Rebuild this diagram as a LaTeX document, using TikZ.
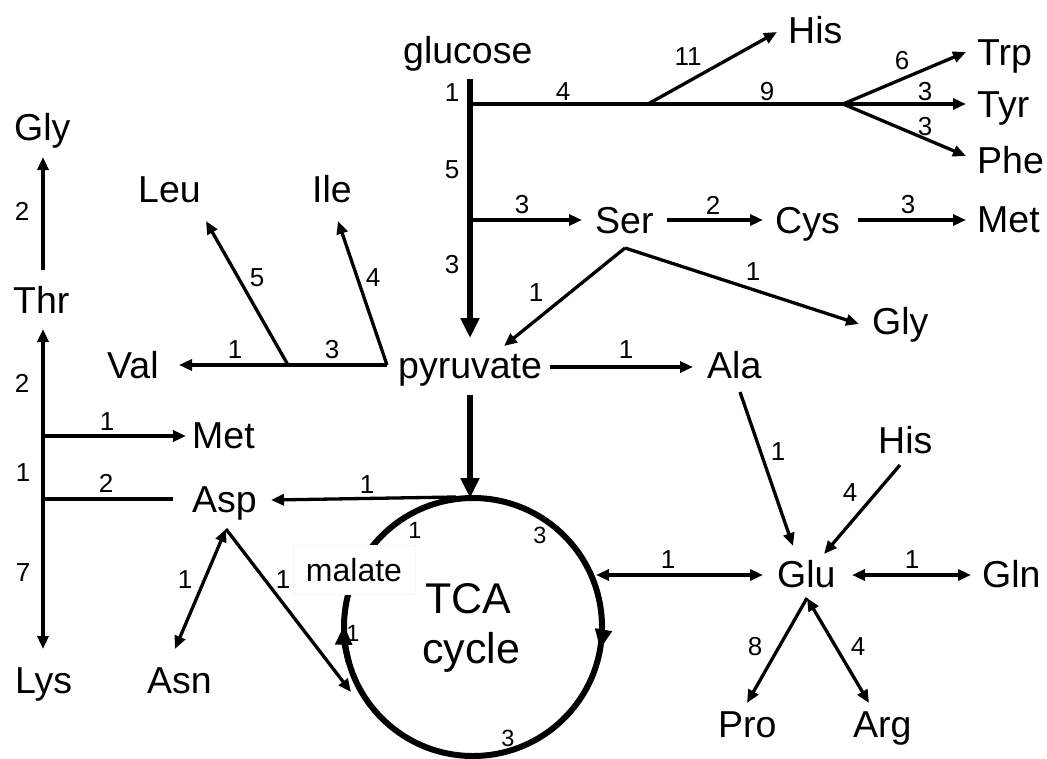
\documentclass[tikz,border=0pt]{standalone}
\usepackage{fontspec}
\setmainfont{Liberation Sans}
\usetikzlibrary{arrows.meta}
\begin{document}
\begin{tikzpicture}[x=1pt,y=-1pt,
  lbl/.style={font=\fontsize{37.5}{40}\selectfont, anchor=base west, inner sep=0pt},
  num/.style={font=\fontsize{26}{28}\selectfont, inner sep=0pt},
  cnum/.style={font=\fontsize{23.5}{26}\selectfont, inner sep=0pt},
  ln/.style={line width=3.3pt},
  arr/.style={ln, -{Triangle[length=13pt,width=11pt]}},
  darr/.style={ln, {Triangle[length=13pt,width=11pt]}-{Triangle[length=13pt,width=11pt]}},
  tarr/.style={line width=6pt, -{Triangle[length=20pt,width=18pt]}},
  cyc/.style={line width=6pt},
  carr/.style={line width=6pt, -{Triangle[length=20pt,width=16pt]}}]
\useasboundingbox (0,0) rectangle (1047,758);

% ---- text nodes
\node[lbl] (glucose) at (403,63) {glucose};
\node[lbl] (hisT) at (788,43) {His};
\node[lbl] (trp) at (977,65) {Trp};
\node[lbl] (tyr) at (977,117) {Tyr};
\node[lbl] (phe) at (977,173) {Phe};
\node[lbl] (metR) at (977,232) {Met};
\node[lbl] (ser) at (595,233) {Ser};
\node[lbl] (cys) at (775,233) {Cys};
\node[lbl] (glyR) at (872,334) {Gly};
\node[lbl] (ala) at (707,378) {Ala};
\node[lbl] (pyr) at (398,378) {pyruvate};
\node[lbl] (val) at (107,378) {Val};
\node[lbl] (leu) at (138,202) {Leu};
\node[lbl] (ile) at (312,202) {Ile};
\node[lbl] (glyL) at (14,140) {Gly};
\node[lbl] (thr) at (13,313) {Thr};
\node[lbl] (metL) at (192,448) {Met};
\node[lbl] (asp) at (192,512) {Asp};
\node[lbl] (lys) at (15,693) {Lys};
\node[lbl] (asn) at (147,693) {Asn};
\node[lbl] (hisR) at (878,453) {His};
\node[lbl] (glu) at (777,587) {Glu};
\node[lbl] (gln) at (982,587) {Gln};
\node[lbl] (pro) at (718,737) {Pro};
\node[lbl] (arg) at (853,737) {Arg};

% ---- coordinates
\coordinate (gTop) at (470,79);
\coordinate (gBot) at (470,338);
\coordinate (bTop) at (470,104);
\coordinate (bHis) at (648,104);
\coordinate (bFan) at (843,104);
\coordinate (tHis) at (777,32);
\coordinate (tTrp) at (966,52);
\coordinate (tTyr) at (966,104);
\coordinate (tPhe) at (966,156);
\coordinate (bSer) at (470,220);
\coordinate (tSer) at (582,220);
\coordinate (sCys) at (667,220);
\coordinate (tCys) at (763,220);
\coordinate (sMet) at (858,220);
\coordinate (tMet) at (966,220);
\coordinate (serB) at (625,248);
\coordinate (tPyrS) at (504,346);
\coordinate (tGlyR) at (859,324);
\coordinate (sAla) at (550,367);
\coordinate (tAla) at (693,367);
\coordinate (bIle) at (387,365);
\coordinate (bLeu) at (288,365);
\coordinate (tVal) at (179,365);
\coordinate (tIle) at (338,221);
\coordinate (tLeu) at (206,221);
\coordinate (sGlyL) at (43,270);
\coordinate (tGlyL) at (43,157);
\coordinate (tThr) at (43,329);
\coordinate (tLys) at (43,649);
\coordinate (bMet) at (43,436);
\coordinate (tMetL) at (186,436);
\coordinate (bAsp) at (43,499);
\coordinate (eAsp) at (173,499);
\coordinate (aspB) at (226,529);
\coordinate (tAsn) at (175,649);
\coordinate (tTCAasp) at (351,692);
\coordinate (tcaC) at (473,627);
\coordinate (sPyrT) at (470,395);
\coordinate (tPyrT) at (470,498);
\coordinate (sTCAasp) at (456,497);
\coordinate (tAspT) at (271,500);
\coordinate (tcaR) at (596,575);
\coordinate (gluL) at (763,575);
\coordinate (gluR) at (852,575);
\coordinate (glnL) at (971,575);
\coordinate (sAlaG) at (740,392);
\coordinate (tAlaG) at (793,546);
\coordinate (sHisG) at (900,465);
\coordinate (tHisG) at (824,554);
\coordinate (gluB) at (807,598);
\coordinate (tPro) at (747,703);
\coordinate (tArg) at (869,703);

% ---- glucose tree
\draw[tarr] (gTop) -- (gBot);
\draw[ln] (bTop) -- (bFan);
\draw[arr] (bHis) -- (tHis);
\draw[arr] (bFan) -- (tTrp);
\draw[arr] (bFan) -- (tTyr);
\draw[arr] (bFan) -- (tPhe);
\draw[arr] (bSer) -- (tSer);
\draw[arr] (sCys) -- (tCys);
\draw[arr] (sMet) -- (tMet);
\draw[arr] (serB) -- (tPyrS);
\draw[arr] (serB) -- (tGlyR);
\draw[arr] (sAla) -- (tAla);

% ---- branched chain
\draw[arr] (bIle) -- (tVal);
\draw[arr] (bIle) -- (tIle);
\draw[arr] (bLeu) -- (tLeu);

% ---- aspartate family
\draw[arr] (sGlyL) -- (tGlyL);
\draw[darr] (tThr) -- (tLys);
\draw[arr] (bMet) -- (tMetL);
\draw[ln] (bAsp) -- (eAsp);
\draw[darr] (aspB) -- (tAsn);
\draw[arr] (aspB) -- (tTCAasp);

% ---- TCA cycle
\draw[cyc] (tcaC) circle[radius=129];
\draw[carr] ([shift={(0:129)}]tcaC) arc (0:10:129);
\draw[carr] ([shift={(164:129)}]tcaC) arc (164:181:129);
\node[fill=white, draw=black!3, inner sep=0pt, minimum width=122pt, minimum height=49pt,
      font=\fontsize{32}{36}\selectfont] (malate) at (354,570) {malate};
\node[font=\fontsize{43}{48}\selectfont, anchor=base, inner sep=0pt] (tcaA) at (468,613) {TCA};
\node[font=\fontsize{43}{48}\selectfont, anchor=base, inner sep=0pt] (tcaB) at (471,663) {cycle};
\draw[tarr] (sPyrT) -- (tPyrT);
\draw[arr] (sTCAasp) -- (tAspT);

% ---- glutamate family
\draw[darr] (tcaR) -- (gluL);
\draw[darr] (gluR) -- (glnL);
\draw[arr] (sAlaG) -- (tAlaG);
\draw[arr] (sHisG) -- (tHisG);
\draw[arr] (gluB) -- (tPro);
\draw[darr] (gluB) -- (tArg);

% ---- numbers
\node[num] (n1) at (452,93) {1};
\node[num] (n2) at (452,170) {5};
\node[num] (n3) at (452,265) {3};
\node[num] (n4) at (563,92) {4};
\node[num] (n5) at (688,57) {11};
\node[num] (n6) at (767,92) {9};
\node[num] (n7) at (902,61) {6};
\node[num] (n8) at (925,92) {3};
\node[num] (n9) at (925,127) {3};
\node[num] (n10) at (522,205) {3};
\node[num] (n11) at (713,205) {2};
\node[num] (n12) at (908,205) {3};
\node[num] (n13) at (536,293) {1};
\node[num] (n14) at (753,272) {1};
\node[num] (n15) at (626,350) {1};
\node[num] (n16) at (235,350) {1};
\node[num] (n17) at (332,350) {3};
\node[num] (n18) at (257,278) {5};
\node[num] (n19) at (373,278) {4};
\node[num] (n20) at (22,211) {2};
\node[num] (n21) at (22,383) {2};
\node[num] (n22) at (107,422) {1};
\node[num] (n23) at (23,473) {1};
\node[num] (n24) at (106,483) {2};
\node[num] (n25) at (23,573) {7};
\node[num] (n26) at (185,580) {1};
\node[num] (n27) at (283,580) {1};
\node[num] (n28) at (367,485) {1};
\node[num] (n29) at (778,452) {1};
\node[num] (n30) at (850,493) {4};
\node[num] (n31) at (668,560) {1};
\node[num] (n32) at (912,560) {1};
\node[num] (n33) at (755,647) {8};
\node[num] (n34) at (858,647) {4};
\node[cnum] (c1) at (415,530) {1};
\node[cnum] (c2) at (540,535) {3};
\node[cnum] (c3) at (353,633) {1};
\node[cnum] (c4) at (508,738) {3};
\end{tikzpicture}
\end{document}
